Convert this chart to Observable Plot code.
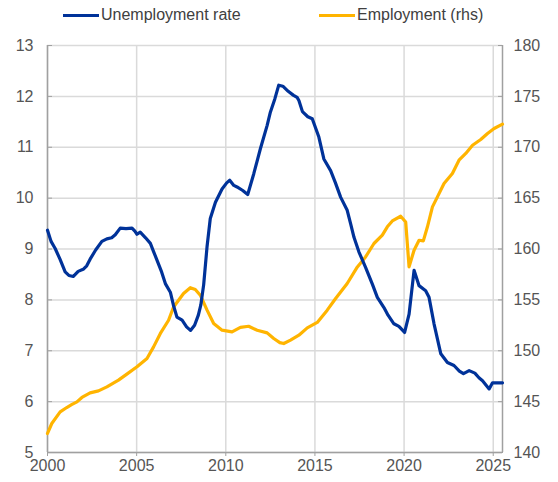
<!DOCTYPE html>
<html>
<head>
<meta charset="utf-8">
<script src="https://cdn.jsdelivr.net/npm/d3@7"></script>
<script src="https://cdn.jsdelivr.net/npm/@observablehq/plot@0.6"></script>
<style>
  body { margin: 0; background: #fff; }
  #wrap { position: relative; width: 558px; height: 482px; font-family: "Liberation Sans", Arial, sans-serif; }
  .leg { position: absolute; top: 6px; font-size: 16px; color: #404040; display: flex; align-items: center; white-space: nowrap; }
  .leg span.sw { display: inline-block; width: 36px; height: 3px; margin-right: 2px; }
</style>
</head>
<body>
<div id="wrap">
  <div class="leg" style="left:63px"><span class="sw" style="background:#003299"></span>Unemployment rate</div>
  <div class="leg" style="left:319px"><span class="sw" style="background:#FFB400"></span>Employment (rhs)</div>
</div>
<script>
const uYears = [2000.0,2000.2,2000.43,2000.7,2000.99,2001.2,2001.45,2001.72,2002.0,2002.2,2002.39,2002.7,2003.05,2003.33,2003.6,2003.8,2004.08,2004.4,2004.74,2004.9,2005.02,2005.2,2005.5,2005.77,2005.95,2006.14,2006.4,2006.61,2006.89,2007.06,2007.26,2007.55,2007.8,2008.02,2008.25,2008.46,2008.6,2008.76,2008.95,2009.13,2009.42,2009.79,2010.05,2010.22,2010.45,2010.63,2010.95,2011.23,2011.57,2011.94,2012.32,2012.5,2012.75,2012.97,2013.2,2013.5,2013.8,2014.0,2014.1,2014.3,2014.6,2014.85,2015.22,2015.5,2015.88,2016.15,2016.44,2016.81,2017.0,2017.19,2017.47,2017.84,2018.22,2018.5,2018.87,2019.1,2019.43,2019.71,2020.03,2020.28,2020.56,2020.84,2021.21,2021.4,2021.68,2022.06,2022.43,2022.8,2023.1,2023.33,2023.65,2023.97,2024.2,2024.4,2024.77,2024.96,2025.25,2025.52];
const uValues = [9.37,9.15,9.01,8.8,8.55,8.48,8.46,8.56,8.6,8.67,8.8,8.98,9.15,9.2,9.22,9.28,9.41,9.4,9.41,9.35,9.29,9.33,9.22,9.11,8.95,8.78,8.55,8.32,8.15,7.9,7.66,7.6,7.47,7.4,7.5,7.7,7.9,8.3,9.05,9.6,9.92,10.18,10.3,10.35,10.25,10.22,10.15,10.07,10.48,10.97,11.43,11.69,11.95,12.22,12.2,12.1,12.02,11.98,11.92,11.7,11.6,11.56,11.2,10.77,10.54,10.3,10.02,9.76,9.5,9.23,8.94,8.64,8.31,8.05,7.85,7.7,7.53,7.48,7.36,7.72,8.58,8.28,8.18,8.05,7.53,6.94,6.77,6.71,6.6,6.55,6.61,6.56,6.47,6.41,6.25,6.37,6.37,6.37];

const eYears = [2000.0,2000.24,2000.71,2001.08,2001.35,2001.65,2001.93,2002.39,2002.86,2003.33,2003.98,2004.45,2005.02,2005.58,2005.95,2006.33,2006.79,2007.07,2007.63,2008.01,2008.29,2008.57,2008.95,2009.32,2009.79,2010.35,2010.82,2011.28,2011.76,2012.32,2012.69,2013.03,2013.25,2013.63,2014.1,2014.57,2015.13,2015.69,2016.16,2016.81,2017.38,2017.84,2018.31,2018.78,2019.06,2019.34,2019.81,2020.09,2020.28,2020.56,2020.84,2021.08,2021.31,2021.59,2021.87,2022.24,2022.71,2023.08,2023.46,2023.84,2024.3,2024.68,2025.05,2025.52];
const eValues = [141.87,142.85,143.99,144.42,144.7,144.97,145.41,145.86,146.06,146.45,147.11,147.7,148.42,149.24,150.38,151.7,153.0,154.3,155.63,156.2,156.02,155.46,153.99,152.68,152.02,151.85,152.29,152.41,152.02,151.76,151.2,150.8,150.71,151.04,151.53,152.25,152.78,153.99,155.13,156.61,158.24,159.22,160.54,161.36,162.18,162.76,163.22,162.66,158.24,159.88,160.86,160.8,162.18,164.14,165.12,166.44,167.42,168.73,169.39,170.2,170.76,171.35,171.84,172.27];

const xTicks = [2000, 2005, 2010, 2015, 2020, 2025];
const leftTicks = [5, 6, 7, 8, 9, 10, 11, 12, 13];
const rightTicks = [140, 145, 150, 155, 160, 165, 170, 175, 180];

const uData = uYears.map((y, i) => ({year: y, value: uValues[i]}));
const eData = eYears.map((y, i) => ({year: y, value: eValues[i]}));
// map right-axis values onto the left scale: 140..180 -> 5..13
const toLeft = v => 5 + (v - 140) / 5;
const fromLeft = v => Math.round(140 + (v - 5) * 5);

const blue = "#003299", yellow = "#FFB400", grid = "#dadada", axis = "#a0a0a0";

const chart = Plot.plot({
  width: 558,
  height: 482,
  marginLeft: 47,
  marginRight: 56,
  marginTop: 45,
  marginBottom: 30,
  x: {domain: [2000, 2025.52]},
  y: {domain: [5, 13]},
  style: {fontFamily: "'Liberation Sans', Arial, sans-serif", fontSize: "16px", color: "#555", background: "transparent"},
  marks: [
    Plot.gridX(xTicks, {stroke: grid, strokeOpacity: 1, strokeWidth: 1.5}),
    Plot.gridY(leftTicks, {stroke: grid, strokeOpacity: 1, strokeWidth: 1.5}),
    Plot.ruleX([2000, 2025.52], {stroke: axis, strokeWidth: 1.5}),
    Plot.ruleY([5], {stroke: axis, strokeWidth: 1.5}),
    Plot.axisX(xTicks, {tickFormat: d => String(d), tickSize: 4, tickPadding: 3, stroke: axis, label: null, fill: "#555"}),
    Plot.axisY(leftTicks, {anchor: "left", tickSize: 0, tickPadding: 14, tickFormat: d => String(d), label: null, fill: "#555"}),
    Plot.axisY(leftTicks, {anchor: "left", tickSize: -5, text: null, stroke: axis, label: null}),
    Plot.axisY(rightTicks.map(toLeft), {anchor: "right", tickSize: 0, tickPadding: 11, tickFormat: d => String(fromLeft(d)), label: null, fill: "#555"}),
    Plot.axisY(rightTicks.map(toLeft), {anchor: "right", tickSize: -5, text: null, stroke: axis, label: null}),
    Plot.line(eData, {x: "year", y: d => toLeft(d.value), stroke: yellow, strokeWidth: 3.2, curve: "linear"}),
    Plot.line(uData, {x: "year", y: "value", stroke: blue, strokeWidth: 3.2, curve: "linear"})
  ]
});
chart.style.position = "absolute";
chart.style.left = "0";
chart.style.top = "0";
document.getElementById("wrap").prepend(chart);
</script>
</body>
</html>
